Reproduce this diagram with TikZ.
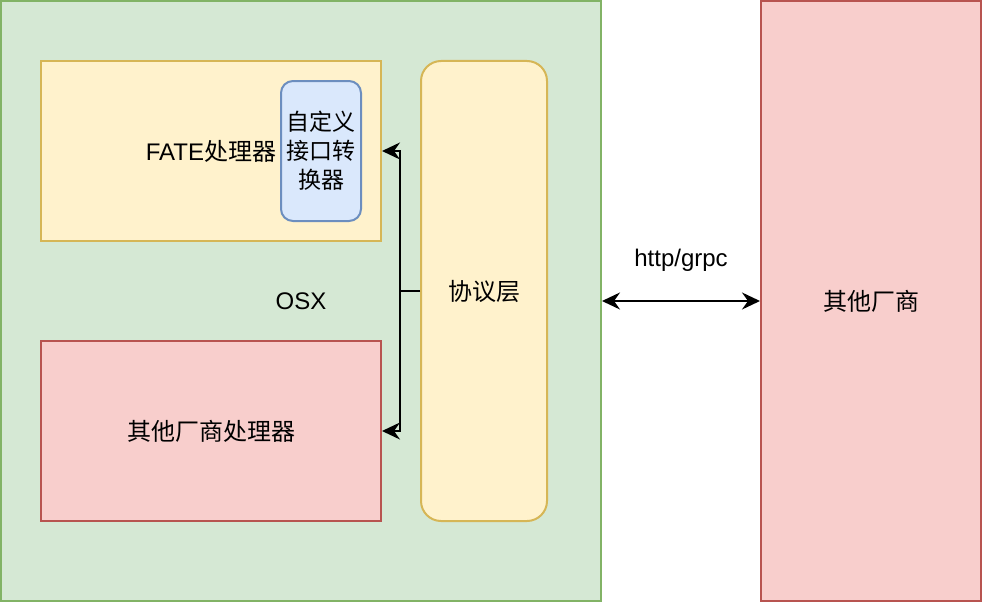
\documentclass[tikz,border=0pt]{standalone}
\usepackage{fontspec}
\setmainfont{Liberation Sans}
\newfontfamily\cjk{Noto Sans CJK SC}
\usepackage{tikz}
\usetikzlibrary{arrows.meta}
\definecolor{osxfill}{HTML}{D5E8D4}
\definecolor{osxline}{HTML}{82B366}
\definecolor{fatefill}{HTML}{FFF2CC}
\definecolor{fateline}{HTML}{D6B656}
\definecolor{convfill}{HTML}{DAE8FC}
\definecolor{convline}{HTML}{6C8EBF}
\definecolor{vendorfill}{HTML}{F8CECC}
\definecolor{vendorline}{HTML}{B85450}

\begin{document}
\begin{tikzpicture}[x=1pt,y=-1pt,
  box/.style={line width=2pt, inner sep=0pt, align=center,
    font=\fontsize{24}{29}\selectfont},
  osxbox/.style={box, draw=osxline, fill=osxfill},
  fatebox/.style={box, draw=fateline, fill=fatefill},
  convbox/.style={box, draw=convline, fill=convfill, rounded corners=12pt,
    font=\cjk\fontsize{23}{29}\selectfont},
  vendorbox/.style={box, draw=vendorline, fill=vendorfill},
  tip/.tip={Stealth[length=18pt,width=17pt,inset=6pt]},
  link/.style={line width=2pt, tip-},
  duplex/.style={line width=2pt, tip-tip}]
\useasboundingbox (0,0) rectangle (982,602);
\node[osxbox, minimum width=600pt, minimum height=600pt] (osx) at (301,301) {OSX};
\node[fatebox, minimum width=340pt, minimum height=180pt] (fate) at (211,151) {FATE{\cjk 处理器}};
\node[convbox, minimum width=80pt, minimum height=140pt] (conv) at (321,151) {自定义\\接口转\\换器};
\node[fatebox, rounded corners=20pt, minimum width=126pt, minimum height=460pt] (proto) at (484,291) {\cjk 协议层};
\node[vendorbox, minimum width=340pt, minimum height=180pt] (other) at (211,431) {\cjk 其他厂商处理器};
\node[vendorbox, minimum width=220pt, minimum height=600pt] (vendor) at (871,301) {\cjk 其他厂商};
\node[box] (proto-label) at (681,260) {http/grpc};

\draw[line width=2pt] (proto.west) -- ++(-20,0) coordinate (j);
\draw[link] (fate.east) -| (j);
\draw[link] (other.east) -| (j);
\draw[duplex] (osx.east) -- (vendor.west);
\end{tikzpicture}
\end{document}
